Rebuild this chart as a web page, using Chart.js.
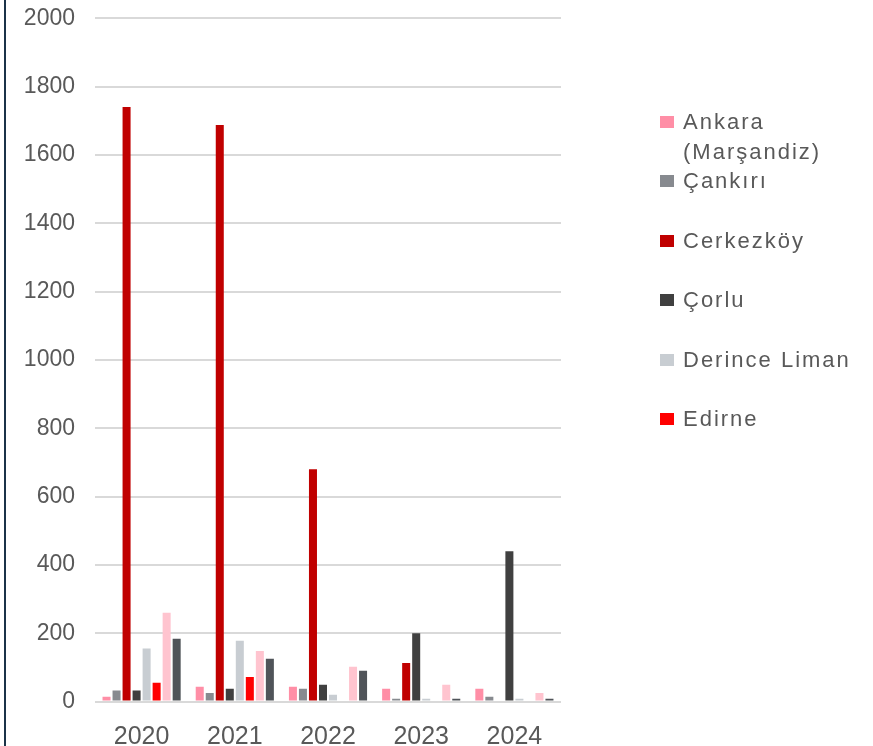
<!DOCTYPE html>
<html lang="tr">
<head>
<meta charset="utf-8">
<title>Yıllara göre istasyon değerleri</title>
<script src="https://cdn.jsdelivr.net/npm/chart.js@4/dist/chart.umd.min.js"></script>
<style>
  html, body { margin: 0; padding: 0; background: #ffffff; }
  #wrap { position: relative; width: 873px; height: 746px; overflow: hidden; }
  #edge { position: absolute; left: 4px; top: 0; width: 2px; height: 746px; background: #1b3348; }
  #chart-box { position: absolute; left: 0; top: 0; width: 873px; height: 746px; }
  #legend { position: absolute; left: 660px; top: 107px; width: 200px;
            font-family: "Liberation Sans", Arial, sans-serif; font-size: 22px;
            letter-spacing: 2px; color: #595959; }
  .item { position: relative; height: 59.4px; }
  .swatch { position: absolute; left: 0; top: 9px; width: 14px; height: 12px; }
  .label { position: absolute; left: 23px; top: 0; width: 180px; line-height: 30px; }
</style>
</head>
<body>
<div id="wrap">
  <div id="chart-box"><canvas id="c"></canvas></div>
  <div id="edge"></div>
  <div id="legend"></div>
</div>
<script>
// Years on the category axis
const years = ['2020', '2021', '2022', '2023', '2024'];

// Values per station, one entry per year
const ankara    = [14, 43, 43, 37, 37];
const cankiri   = [32, 25, 37, 8, 14];
const cerkezkoy = [1740, 1688, 680, 113, 0];
const corlu     = [32, 37, 49, 200, 440];
const derince   = [155, 178, 20, 8, 8];
const edirne    = [55, 72, 0, 0, 0];
const diger1    = [260, 148, 102, 49, 25];
const diger2    = [184, 125, 90, 8, 8];

// Series names (only the first six appear in the legend)
const seriesNames = ['Ankara (Marşandiz)', 'Çankırı', 'Cerkezköy', 'Çorlu', 'Derince Liman', 'Edirne', 'Diğer 1', 'Diğer 2'];
const seriesColors = ['#ff8ea6', '#878a8f', '#c00000', '#404040', '#c8cdd2', '#ff0000', '#ffc4cf', '#505459'];
const seriesValues = [ankara, cankiri, cerkezkoy, corlu, derince, edirne, diger1, diger2];
const legendCount = 6;

// Y axis ticks
const yMin = 0, yMax = 2000, yStep = 200;

const datasets = seriesNames.map((name, i) => ({
  label: name,
  data: seriesValues[i],
  backgroundColor: seriesColors[i],
  borderWidth: 0,
  categoryPercentage: 0.86,
  barPercentage: 0.8
}));

const textColor = '#595959';
const fontFamily = '"Liberation Sans", Arial, sans-serif';

new Chart(document.getElementById('c'), {
  type: 'bar',
  data: { labels: years, datasets },
  options: {
    responsive: true,
    maintainAspectRatio: false,
    animation: false,
    layout: { padding: { left: 0, right: 312, top: 18.3, bottom: 0 } },
    plugins: {
      legend: { display: false },
      tooltip: { enabled: false }
    },
    scales: {
      x: {
        grid: { display: false, drawTicks: false },
        border: { display: false },
        ticks: { color: textColor, font: { family: fontFamily, size: 25 }, padding: 21, maxRotation: 0 },
        afterFit: (scale) => { scale.height = 44.5; }
      },
      y: {
        min: yMin,
        max: yMax,
        grid: { color: '#d9d9d9', lineWidth: 2, drawTicks: false },
        border: { display: false },
        ticks: {
          stepSize: yStep,
          color: textColor,
          font: { family: fontFamily, size: 23 },
          padding: 20,
          callback: (v) => String(v)
        },
        afterFit: (scale) => {
          scale.width = 95;
          scale.paddingTop = 0;
          scale.paddingBottom = 0;
        }
      }
    }
  }
});

// Legend entries for the first six stations
const legend = document.getElementById('legend');
for (let i = 0; i < legendCount; i++) {
  const item = document.createElement('div');
  item.className = 'item';
  const sw = document.createElement('span');
  sw.className = 'swatch';
  sw.style.background = seriesColors[i];
  const lb = document.createElement('span');
  lb.className = 'label';
  lb.textContent = seriesNames[i];
  item.appendChild(sw);
  item.appendChild(lb);
  legend.appendChild(item);
}
</script>
</body>
</html>
